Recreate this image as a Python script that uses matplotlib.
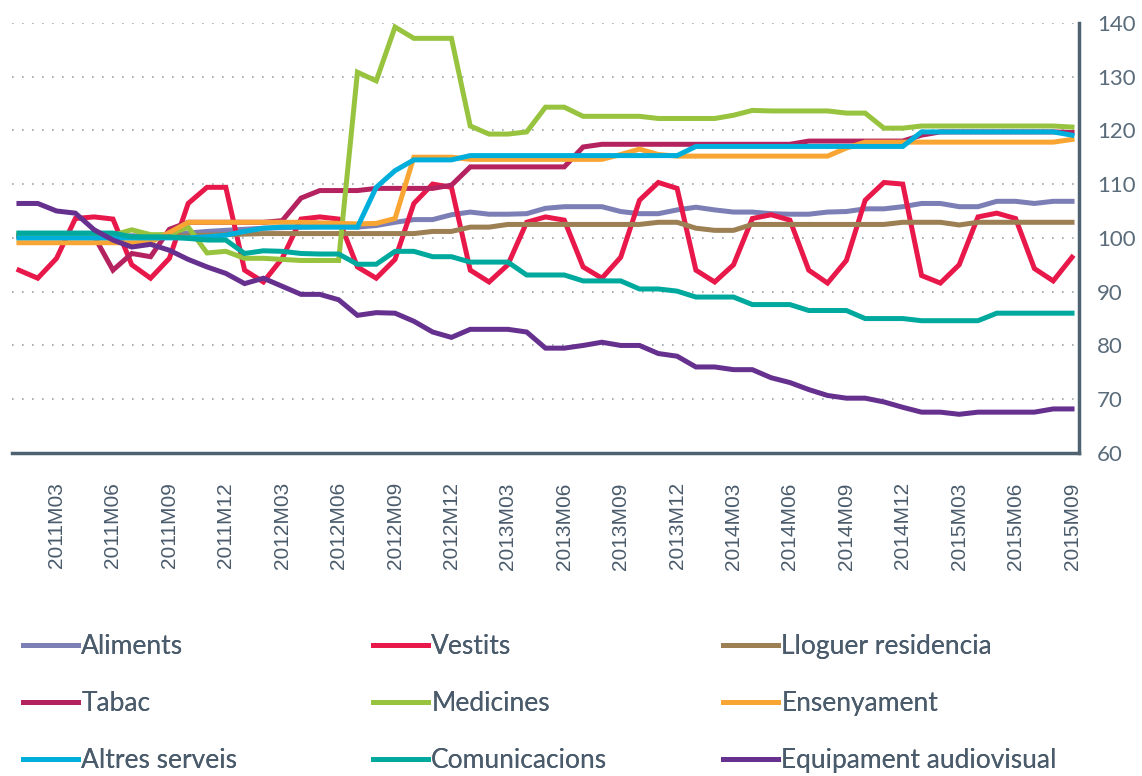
import numpy as np
import matplotlib
matplotlib.use("Agg")
import matplotlib.pyplot as plt

# months 2011M01 .. 2015M09
months = [f"{y}M{m:02d}" for y in range(2011, 2016) for m in range(1, 13)][:57]

aliments = [100.2, 100.2, 100.2, 100.2, 100.2, 100.2, 100.4, 100.3, 100.6, 100.9, 101.2, 101.4,
            101.6, 101.8, 101.9, 102.0, 102.1, 102.1, 102.0, 102.3, 102.9, 103.4, 103.4, 104.3,
            104.8, 104.4, 104.4, 104.5, 105.5, 105.8, 105.8, 105.8, 104.9, 104.5, 104.5, 105.2,
            105.7, 105.2, 104.8, 104.8, 104.5, 104.4, 104.4, 104.8, 104.9, 105.4, 105.4, 105.8,
            106.4, 106.4, 105.8, 105.8, 106.8, 106.8, 106.4, 106.8, 106.8]
vestits = [94.0, 92.5, 96.2, 103.6, 103.9, 103.5, 95.0, 92.5, 96.2, 106.4, 109.4, 109.4,
           94.0, 91.8, 96.2, 103.5, 103.9, 103.5, 94.6, 92.5, 96.0, 106.4, 110.0, 109.4,
           94.0, 91.8, 95.0, 102.9, 103.9, 103.3, 94.6, 92.5, 96.4, 107.0, 110.3, 109.2,
           94.0, 91.8, 95.0, 103.6, 104.3, 103.3, 94.0, 91.6, 95.8, 107.0, 110.3, 110.0,
           93.0, 91.6, 95.0, 103.9, 104.6, 103.6, 94.3, 92.0, 96.4]
lloguer = [100.2, 100.2, 100.2, 100.2, 100.2, 100.2, 100.2, 100.2, 100.2, 100.4, 100.5, 100.6,
           100.7, 100.8, 100.8, 100.8, 100.8, 100.8, 100.8, 100.8, 100.8, 100.8, 101.2, 101.2,
           102.0, 102.0, 102.5, 102.5, 102.5, 102.5, 102.5, 102.5, 102.5, 102.5, 102.9, 102.9,
           101.8, 101.4, 101.4, 102.5, 102.5, 102.5, 102.5, 102.5, 102.5, 102.5, 102.5, 102.9,
           102.9, 102.9, 102.4, 102.9, 102.9, 102.9, 102.9, 102.9, 102.9]
tabac = [100.5, 100.5, 100.5, 100.5, 100.3, 94.0, 97.1, 96.5, 101.6, 102.9, 102.9, 102.9,
         102.9, 102.9, 103.2, 107.4, 108.8, 108.8, 108.8, 109.2, 109.2, 109.2, 109.2, 109.8,
         113.2, 113.2, 113.2, 113.2, 113.2, 113.2, 116.9, 117.4, 117.4, 117.4, 117.4, 117.4,
         117.4, 117.4, 117.4, 117.4, 117.4, 117.4, 118.0, 118.0, 118.0, 118.0, 118.0, 118.0,
         119.1, 119.7, 119.7, 119.7, 119.7, 119.7, 119.7, 119.7, 119.6]
medicines = [100.8, 100.8, 100.8, 100.8, 100.8, 100.5, 101.5, 100.6, 100.6, 102.0, 97.2, 97.5,
             96.2, 96.2, 96.0, 95.8, 95.8, 95.8, 130.8, 129.2, 139.2, 137.1, 137.1, 137.1,
             120.8, 119.3, 119.3, 119.7, 124.3, 124.3, 122.6, 122.6, 122.6, 122.6, 122.2, 122.2,
             122.2, 122.2, 122.8, 123.7, 123.6, 123.6, 123.6, 123.6, 123.2, 123.2, 120.4, 120.4,
             120.8, 120.8, 120.8, 120.8, 120.8, 120.8, 120.8, 120.8, 120.6]
ensenyament = [99.1, 99.1, 99.1, 99.1, 99.1, 99.1, 99.1, 99.2, 101.0, 102.9, 102.9, 102.9,
               102.9, 102.9, 102.9, 102.9, 102.8, 102.7, 102.6, 102.7, 103.6, 115.0, 115.0, 115.0,
               114.6, 114.6, 114.6, 114.6, 114.6, 114.6, 114.6, 114.6, 115.5, 116.5, 115.5, 115.2,
               115.2, 115.2, 115.2, 115.2, 115.2, 115.2, 115.2, 115.2, 116.7, 117.8, 117.8, 117.8,
               117.8, 117.8, 117.8, 117.8, 117.8, 117.8, 117.8, 117.8, 118.3]
altres = [100.0, 100.0, 100.0, 100.0, 100.0, 100.0, 100.0, 100.0, 100.0, 100.0, 100.2, 100.5,
          101.2, 101.8, 102.0, 102.0, 102.0, 102.0, 102.0, 109.4, 112.5, 114.5, 114.5, 114.5,
          115.3, 115.3, 115.3, 115.3, 115.3, 115.3, 115.3, 115.3, 115.3, 115.3, 115.3, 115.3,
          117.0, 117.0, 117.0, 117.0, 117.0, 117.0, 117.0, 117.0, 117.0, 117.0, 117.0, 117.0,
          119.7, 119.7, 119.7, 119.7, 119.7, 119.7, 119.7, 119.7, 119.1]
comunicacions = [100.9, 100.9, 100.9, 100.9, 100.9, 100.9, 100.2, 100.2, 100.2, 99.9, 99.6, 99.6,
                 97.1, 97.6, 97.5, 97.1, 97.0, 97.0, 95.1, 95.1, 97.5, 97.5, 96.5, 96.5,
                 95.5, 95.5, 95.5, 93.1, 93.1, 93.1, 92.0, 92.0, 92.0, 90.5, 90.5, 90.1,
                 89.0, 89.0, 89.0, 87.6, 87.6, 87.6, 86.5, 86.5, 86.5, 85.0, 85.0, 85.0,
                 84.6, 84.6, 84.6, 84.6, 86.0, 86.0, 86.0, 86.0, 86.0]
audiovisual = [106.4, 106.4, 105.0, 104.6, 101.5, 99.6, 98.3, 98.8, 97.7, 96.0, 94.6, 93.4,
               91.5, 92.5, 91.0, 89.5, 89.5, 88.5, 85.6, 86.1, 86.0, 84.5, 82.5, 81.5,
               83.0, 83.0, 83.0, 82.5, 79.5, 79.5, 80.0, 80.6, 80.0, 80.0, 78.5, 78.0,
               76.0, 76.0, 75.5, 75.5, 74.0, 73.1, 71.8, 70.7, 70.2, 70.2, 69.5, 68.5,
               67.6, 67.6, 67.2, 67.6, 67.6, 67.6, 67.6, 68.2, 68.2]

names = ["Aliments", "Vestits", "Lloguer residencia", "Tabac", "Medicines",
         "Ensenyament", "Altres serveis", "Comunicacions", "Equipament audiovisual"]
series = [aliments, vestits, lloguer, tabac, medicines,
          ensenyament, altres, comunicacions, audiovisual]
colors = ["#7B7FB5", "#E8194A", "#9C7F52", "#B4235F", "#97C33F",
          "#F9A533", "#00AEDC", "#00A99D", "#66308F"]

text_col = "#4A5B6B"
axis_col = "#4F6272"

fig = plt.figure(figsize=(11.42, 7.76), dpi=100)
ax = fig.add_axes([0.0105, 0.4162, 0.9343, 0.5545])

x = np.arange(len(months))
lines = {}
for name, vals, c in zip(names, series, colors):
    ln, = ax.plot(x, vals, color=c, lw=3.6, solid_joinstyle="miter", label=name)
    lines[name] = ln

ax.set_xlim(-0.37, 56.37)
ax.set_ylim(60, 140)
ax.set_yticks(np.arange(60, 141, 10))
ax.yaxis.tick_right()
ax.tick_params(axis="y", length=0, pad=13, labelsize=16, labelcolor="#5A6B7A")
for t in ax.get_yticklabels():
    t.set_fontfamily("Lato")

tick_idx = list(range(2, 57, 3))
ax.set_xticks(tick_idx)
ax.set_xticklabels([months[i] for i in tick_idx], rotation=90, fontsize=15,
                   color=text_col, family="Liberation Sans")
ax.tick_params(axis="x", length=0, pad=21)

ax.grid(axis="y", linestyle=(0, (1, 5)), color="#9AA4AD", lw=1.2)
ax.set_axisbelow(True)
for s in ["top", "left"]:
    ax.spines[s].set_visible(False)
for s in ["bottom", "right"]:
    ax.spines[s].set_color(axis_col)
    ax.spines[s].set_linewidth(2.5)

# legend: three columns, read row by row like the original
cols = [["Aliments", "Tabac", "Altres serveis"],
        ["Vestits", "Medicines", "Comunicacions"],
        ["Lloguer residencia", "Ensenyament", "Equipament audiovisual"]]
col_x = [12 / 1142, 362 / 1142, 712 / 1142]
for cx, col in zip(col_x, cols):
    leg = fig.legend([lines[n] for n in col], col, loc="upper left",
                     bbox_to_anchor=(cx, 0.196), frameon=False,
                     prop={"family": "Lato", "size": 19},
                     handlelength=2.1, handletextpad=0.12, labelspacing=1.2,
                     borderaxespad=0)
    for t in leg.get_texts():
        t.set_color(text_col)
    fig.add_artist(leg)

fig.savefig("out.png", dpi=100)
